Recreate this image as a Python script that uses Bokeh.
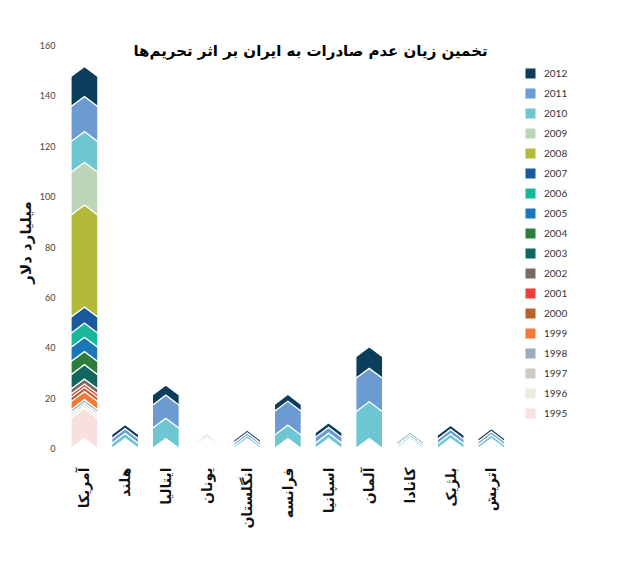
from bokeh.plotting import figure
from bokeh.models import ColumnDataSource, Range1d, FixedTicker, Legend, LegendItem, Label, Title
from bokeh.embed import file_html
from bokeh.resources import INLINE

title_text = "تخمین زیان عدم صادرات به ایران بر اثر تحریم‌ها"
y_label_text = "میلیارد دلار"

countries = ["آمریکا", "هلند", "ایتالیا", "یونان", "انگلستان", "فرانسه",
             "اسپانیا", "آلمان", "کانادا", "بلژیک", "اتریش"]

years = ["1995", "1996", "1997", "1998", "1999", "2000", "2001", "2002", "2003",
         "2004", "2005", "2006", "2007", "2008", "2009", "2010", "2011", "2012"]

v1995 = [12.0, 0, 0, 0, 0, 0, 0, 0, 0, 0, 0]
v1996 = [1.2, 0, 0, 0, 0, 0, 0, 0, 0, 0, 0]
v1997 = [1.0, 0, 0, 0, 0, 0, 0, 0, 0, 0, 0]
v1998 = [1.2, 0, 0, 0, 0, 0, 0, 0, 0, 0, 0]
v1999 = [3.2, 0, 0, 0, 0, 0, 0, 0, 0, 0, 0]
v2000 = [1.7, 0, 0, 0, 0, 0, 0, 0, 0, 0, 0]
v2001 = [1.3, 0, 0, 0, 0, 0, 0, 0, 0, 0, 0]
v2002 = [2.0, 0, 0, 0, 0, 0, 0, 0, 0, 0, 0]
v2003 = [5.7, 0, 0, 0, 0, 0, 0, 0, 0, 0, 0]
v2004 = [5.2, 0, 0, 0, 0, 0, 0, 0, 0, 0, 0]
v2005 = [5.7, 0, 0, 0, 0, 0, 0, 0, 0, 0, 0]
v2006 = [5.6, 0, 0, 0, 0, 0, 0, 0, 0, 0, 0]
v2007 = [6.4, 0, 0, 0, 0, 0, 0, 0, 0, 0, 0]
v2008 = [40.5, 0, 0, 0, 0, 0, 0, 0, 0, 0, 0]
v2009 = [17.0, 0, 0, 0, 0, 0, 0, 0, 0, 0, 0]
v2010 = [12.2, 2.0, 8.0, 0.6, 1.1, 5.3, 2.1, 14.6, 0.8, 1.8, 1.4]
v2011 = [13.9, 1.9, 9.2, 0.6, 1.1, 9.5, 2.3, 13.3, 0.8, 1.8, 1.3]
v2012 = [11.9, 1.6, 4.0, 0.6, 1.1, 2.7, 1.8, 8.5, 0.8, 1.6, 1.2]

values = [v1995, v1996, v1997, v1998, v1999, v2000, v2001, v2002, v2003,
          v2004, v2005, v2006, v2007, v2008, v2009, v2010, v2011, v2012]

colors = ["#f8e1dc", "#ebeedc", "#cfcbc0", "#9aabbd", "#f07a3a", "#b8602e",
          "#e8403a", "#786a62", "#13665e", "#2e7d3c", "#1a78b8", "#18b69a",
          "#1a5a9a", "#b2b938", "#bcd5b8", "#6ec6d3", "#6b9bd1", "#0d3d5c"]

y_ticks = [0, 20, 40, 60, 80, 100, 120, 140, 160]

PERSIAN_FONT = "DejaVu Sans"
HALF_W = 0.33
CHEV = 4.0

p = figure(width=608, height=548, output_backend="svg", toolbar_location=None,
           x_range=Range1d(-0.49, 12.88), y_range=Range1d(-1.6, 165.2),
           min_border_left=64, min_border_top=32, min_border_right=0,
           min_border_bottom=96)
p.outline_line_color = None
p.grid.visible = False
p.background_fill_color = "white"
p.border_fill_color = "white"

n = len(countries)
cum = [0.0] * n
renderers = []
for yr, vals, col in zip(years, values, colors):
    xs, ys = [], []
    for i, v in enumerate(vals):
        if v > 0:
            a = cum[i]
            b = a + v
            xs.append([i - HALF_W, i, i + HALF_W, i + HALF_W, i, i - HALF_W])
            ys.append([a, a + CHEV, a, b, b + CHEV, b])
            cum[i] = b
    src = ColumnDataSource(dict(xs=xs, ys=ys))
    r = p.patches("xs", "ys", source=src, fill_color=col, line_color="white",
                  line_width=1.2, line_join="miter")
    renderers.append((yr, r))

# axes
p.xaxis.ticker = FixedTicker(ticks=list(range(n)))
p.xaxis.major_label_overrides = {i: c for i, c in enumerate(countries)}
p.xaxis.major_label_orientation = 1.5708
p.xaxis.axis_line_color = None
p.xaxis.major_tick_line_color = None
p.xaxis.minor_tick_line_color = None
p.xaxis.major_label_standoff = 9
p.xaxis.major_label_text_font = PERSIAN_FONT
p.xaxis.major_label_text_font_style = "bold"
p.xaxis.major_label_text_font_size = "14px"
p.xaxis.major_label_text_color = "#111111"

p.yaxis.ticker = FixedTicker(ticks=y_ticks)
p.yaxis.axis_line_color = None
p.yaxis.major_tick_line_color = None
p.yaxis.minor_tick_line_color = None
p.yaxis.major_label_standoff = 3
p.yaxis.major_label_text_font = "Lato"
p.yaxis.major_label_text_font_size = "9px"
p.yaxis.major_label_text_color = "#444444"

# y-axis title on the left, shifted up
p.add_layout(Title(text=y_label_text, align="center", offset=48, standoff=3,
                   text_font=PERSIAN_FONT, text_font_style="bold",
                   text_font_size="15px", text_color="#111111"), "left")

# legend
items = [LegendItem(label=yr, renderers=[r]) for yr, r in reversed(renderers)]
legend = Legend(items=items, location=(459, 32), padding=0, margin=0,
                glyph_width=14, glyph_height=14, label_height=14, spacing=6,
                label_standoff=7, border_line_color=None,
                background_fill_alpha=0, label_text_font="Lato",
                label_text_font_size="10px", label_text_color="#333333")
p.add_layout(legend, "center")

# chart title
p.add_layout(Label(x=246, y=402, x_units="screen", y_units="screen",
                   text=title_text, text_align="center", text_baseline="middle",
                   text_font=PERSIAN_FONT, text_font_style="bold",
                   text_font_size="15px", text_color="#000000"))

open("out.html", "w").write(file_html(p, INLINE))
